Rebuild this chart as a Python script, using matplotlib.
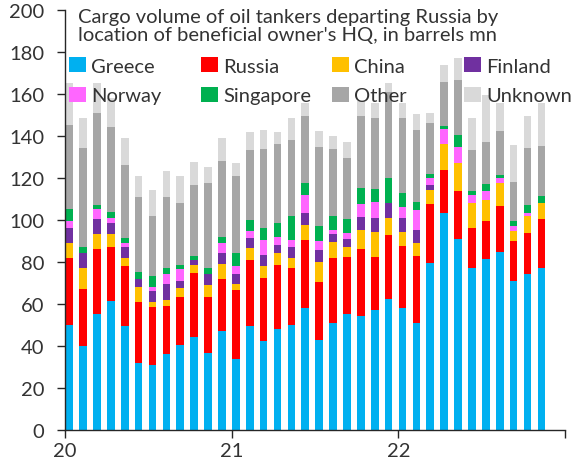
import matplotlib
matplotlib.use("Agg")
import matplotlib.pyplot as plt
from matplotlib.patches import Patch
import numpy as np

plt.rcParams['font.family'] = ['Lato', 'DejaVu Sans']

series_names = ["Greece", "Russia", "China", "Finland", "Norway", "Singapore", "Other", "Unknown"]
colors = ["#00B0F0", "#FF0000", "#FFC000", "#7030A0", "#FF66FF", "#00B050", "#A6A6A6", "#D9D9D9"]

# monthly values, Jan 2020 .. Nov 2022 (barrels mn)
greece = [50, 40, 55, 61.5, 49.5, 32, 31, 36, 40.5, 44.3, 36.5, 47,
          33.8, 49.2, 42.4, 48.1, 50, 58, 42.9, 51, 55, 54, 57, 62.4,
          58, 51, 79.4, 103.3, 91, 77, 81.4, 84.4, 70.6, 74.3, 77]
russia = [32, 27, 31, 25.5, 28.5, 29, 27.6, 23, 22.5, 30.3, 26.8, 24.6,
          32.5, 31.8, 29.9, 30.5, 27, 32.3, 27.6, 30.7, 27.4, 32.2, 25.4, 30.5,
          29.6, 31.5, 28.2, 20.5, 22.8, 19, 18.1, 21.9, 19.4, 19.4, 23.5]
china = [7, 10, 7, 6, 4, 7, 2.4, 3, 4.6, 4, 5.7, 7.4,
         3.2, 5.6, 5.7, 5.4, 4.6, 7.3, 9.5, 7.8, 4.6, 9, 11.9, 8.1,
         6.7, 6.4, 6.7, 12.2, 13.2, 12, 10, 11.2, 4.4, 7.9, 7.5]
finland = [7, 7, 7.5, 5.5, 5, 4, 5, 7.6, 3, 2.4, 5, 5,
           4.5, 4.7, 5.3, 4, 5.4, 5.4, 5.7, 3.5, 4, 6.1, 6.7, 7,
           6.7, 6.3, 2.3, 0, 0, 0, 0, 0, 0, 0, 0]
norway = [3.5, 0, 4.5, 2.5, 2, 0, 2, 4.4, 6, 0, 0, 5,
          3.8, 3.1, 7.2, 4, 3.5, 9, 4.3, 2, 2.8, 6.3, 7.6, 0,
          5, 9.6, 3.4, 7.3, 7.8, 4, 4.3, 2.3, 2.7, 1.7, 0]
singapore = [5.5, 3, 2, 2.5, 2.5, 3, 5, 3, 2, 1.5, 3, 3,
             6.2, 5.6, 5.5, 6.6, 11.1, 5.6, 7, 6.6, 6.7, 7.4, 6, 12,
             6.5, 3.8, 2, 1.5, 5.7, 1.8, 3.2, 1.6, 2.4, 3.7, 3.4]
other = [40, 47, 44, 40.5, 34.5, 36, 29, 33.6, 29.4, 34.1, 40.6, 35.8,
         37, 33, 37.7, 37.4, 36.4, 31.7, 37.6, 32.1, 29, 34.5, 34, 40.6,
         35.9, 34.3, 24, 21, 26.2, 19.5, 20, 21, 18.3, 27, 23.8]
unknown = [20, 14.5, 14, 14, 13, 10, 12, 12.4, 12.6, 11, 7.4, 11.2,
           6, 9, 8.8, 6, 10.4, 6.3, 7.8, 6.3, 7.3, 6.8, 7.1, 4.4,
           7.3, 7.6, 5, 8, 10.3, 15.1, 22.5, 13.2, 17.9, 15.2, 20.4]

year_ticks = [0, 12, 24, 36]
year_labels = ["20", "21", "22", ""]
y_ticks = list(range(0, 201, 20))

data = [greece, russia, china, finland, norway, singapore, other, unknown]

fig = plt.figure(figsize=(5.74, 4.64), dpi=100)
ax = fig.add_axes([65/574, 33.3/464, 500/574, 420/464])

x = np.arange(len(greece)) + 0.3
bottom = np.zeros(len(greece))
for vals, col in zip(data, colors):
    v = np.array(vals, dtype=float)
    ax.bar(x, v, width=0.55, bottom=bottom, color=col, linewidth=0)
    bottom += v

ax.set_xlim(0, 36)
ax.set_ylim(0, 200)
ax.set_yticks(y_ticks)
ax.set_xticks(year_ticks)
ax.set_xticklabels(year_labels)
for s in ["top", "right"]:
    ax.spines[s].set_visible(False)
for s in ["left", "bottom"]:
    ax.spines[s].set_color("#262626")
    ax.spines[s].set_linewidth(1.0)
ax.tick_params(axis="both", direction="out", length=6, width=1, color="#262626",
               labelsize=14.5, labelcolor="#333333")
ax.tick_params(axis="y", pad=9)
ax.tick_params(axis="x", pad=3)

fig.text(78/574, 1 - 9/464,
         "Cargo volume of oil tankers departing Russia by\nlocation of beneficial owner's HQ, in barrels mn",
         ha="left", va="top", fontsize=14.5, color="#333333", linespacing=1.1)

# legend laid out as an evenly spaced 4-column grid (one legend per column)
col_x = [69, 201, 332, 464]
for c in range(4):
    hs = [Patch(facecolor=colors[c + r * 4], edgecolor="none", label=series_names[c + r * 4])
          for r in range(2)]
    fig.legend(handles=hs, ncol=1, loc="upper left",
               bbox_to_anchor=(col_x[c] / 574, 1 - 58 / 464), frameon=False,
               fontsize=14.5, handlelength=0.85, handleheight=0.8, handletextpad=0.25,
               labelspacing=0.6, borderpad=0, borderaxespad=0,
               labelcolor="#333333")

fig.savefig("out.png", dpi=100)
